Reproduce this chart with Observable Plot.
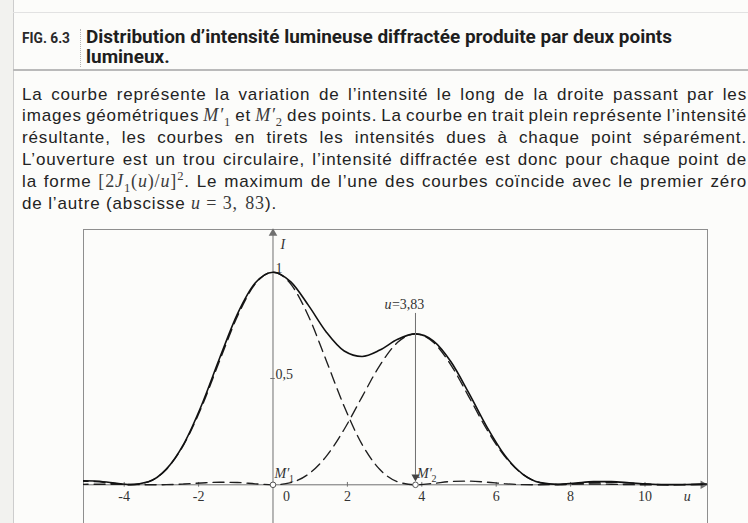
<!DOCTYPE html>
<html lang="fr">
<head>
<meta charset="utf-8">
<title>Distribution d’intensité lumineuse diffractée</title>
<script src="https://cdn.jsdelivr.net/npm/d3@7"></script>
<script src="https://cdn.jsdelivr.net/npm/@observablehq/plot@0.6"></script>
<style>
html, body { margin:0; padding:0; width:748px; height:523px; overflow:hidden; background:#fcfcfa; }
#page { position:relative; width:748px; height:523px; overflow:hidden; color:#242424; font-family:"Liberation Sans", Arial, sans-serif; }
.a { position:absolute; white-space:nowrap; }
#edge2 { left:0; top:0; width:13px; height:523px; background:#f2f2ef; }
#edge { left:13px; top:0; width:1px; height:523px; background:#cdcdcd; }
#topline { left:13px; top:12px; width:735px; height:1px; background:#e2e2e2; }
#fig { left:22px; top:0; font:700 15px Roboto, sans-serif; color:#2a2a2a; transform-origin:0 0; }
#sep { left:80px; top:29px; height:38px; width:0; border-left:1px dotted #b4b4b4; }
.tl { left:86px; top:0; font:700 18px Roboto, sans-serif; color:#1e1e1e; transform-origin:0 0; }
#rule { left:13px; top:69px; width:735px; height:2px; background:#bababa; }
.pl { left:22px; top:0; font-size:17px; color:#232323; }
.mth { font-family:"Liberation Serif", "DejaVu Serif", serif; font-size:18px; color:#3a3a3a; }
.mth i { font-style:italic; }
.mth sub, .mth sup { font-size:0.7em; line-height:0; }
#chart { left:82px; top:228px; }
</style>
</head>
<body>
<div id="page">
  <div class="a" id="edge2"></div>
  <div class="a" id="edge"></div>
  <div class="a" id="topline"></div>
  <div class="a" id="fig">FIG. 6.3</div>
  <div class="a" id="sep"></div>
  <div class="a tl" id="t1">Distribution d’intensité lumineuse diffractée produite par deux points</div>
  <div class="a tl" id="t2">lumineux.</div>
  <div class="a" id="rule"></div>
  <div class="a pl">La courbe représente la variation de l’intensité le long de la droite passant par les</div>
  <div class="a pl">images géométriques <span class="mth"><i>M′</i><sub>1</sub></span> et <span class="mth"><i>M′</i><sub>2</sub></span> des points. La courbe en trait plein représente l’intensité</div>
  <div class="a pl">résultante, les courbes en tirets les intensités dues à chaque point séparément.</div>
  <div class="a pl">L’ouverture est un trou circulaire, l’intensité diffractée est donc pour chaque point de</div>
  <div class="a pl">la forme <span class="mth">[2<i>J</i><sub>1</sub>(<i>u</i>)/<i>u</i>]<sup>2</sup></span>. Le maximum de l’une des courbes coïncide avec le premier zéro</div>
  <div class="a pl">de l’autre (abscisse <span class="mth"><i>u</i> = 3<span style="margin-right:2px">,</span> 83</span>).</div>
  <div class="a" id="chart"></div>
</div>
<script>
// Sample abscissas u along the line through M'1 and M'2
const uSamples = [-5.266, -4.788, -4.309, -3.830, -3.351, -2.873, -2.394, -1.915, -1.436, -0.958, -0.479,
  0, 0.479, 0.958, 1.436, 1.915, 2.394, 2.873, 3.351, 3.830, 4.309, 4.788, 5.266, 5.745, 6.224, 6.703,
  7.181, 7.660, 8.139, 8.618, 9.096, 9.575, 10.054, 10.533, 11.011, 11.490, 11.969];

// Intensity diffracted by the first point (centred on u = 0)
const intensityM1 = [0.0172, 0.0153, 0.0066, 0.0000, 0.0142, 0.0719, 0.1899, 0.3679, 0.5828, 0.7916, 0.9441,
  1.0000, 0.9441, 0.7916, 0.5828, 0.3679, 0.1899, 0.0719, 0.0142, 0.0000, 0.0066, 0.0153, 0.0172, 0.0123, 0.0053, 0.0008,
  0.0002, 0.0020, 0.0038, 0.0040, 0.0026, 0.0009, 0.0000, 0.0003, 0.0011, 0.0016, 0.0014];

// Intensity diffracted by the second point (centred on u = 3,83)
const intensityM2 = [0.0018, 0.0028, 0.0027, 0.0014, 0.0001, 0.0006, 0.0038, 0.0087, 0.0122, 0.0109, 0.0047,
  0.0000, 0.0101, 0.0510, 0.1348, 0.2612, 0.4138, 0.5620, 0.6703, 0.7100, 0.6703, 0.5620, 0.4138, 0.2612, 0.1348, 0.0510,
  0.0101, 0.0000, 0.0047, 0.0109, 0.0122, 0.0087, 0.0038, 0.0006, 0.0001, 0.0014, 0.0027];

// Resulting intensity (solid curve)
const intensityTotal = [0.0190, 0.0181, 0.0093, 0.0014, 0.0143, 0.0725, 0.1937, 0.3766, 0.5950, 0.8025, 0.9488,
  1.0000, 0.9542, 0.8426, 0.7176, 0.6291, 0.6037, 0.6339, 0.6845, 0.7100, 0.6769, 0.5773, 0.4310, 0.2735, 0.1401, 0.0518,
  0.0103, 0.0020, 0.0085, 0.0149, 0.0148, 0.0096, 0.0038, 0.0009, 0.0012, 0.0030, 0.0041];

const xTicks = [-4, -2, 0, 2, 4, 6, 8, 10];
const yTicks = [0.5, 1];
const yTickLabels = ["0,5", "1"];
const sourceU = [0, 3.83];
const sourceIndex = ["1", "2"];
const markerU = 3.83;
const markerText = "=3,83";

const rows = uSamples.map((u, i) => ({u, m1: intensityM1[i], m2: intensityM2[i], total: intensityTotal[i]}));

// ---------- text layout helpers ----------
const page = document.getElementById("page");
function setBaseline(el, y) {
  el.style.top = "0px";
  const probe = document.createElement("span");
  probe.style.cssText = "display:inline-block;width:0;height:0;vertical-align:baseline;";
  el.appendChild(probe);
  const b = probe.getBoundingClientRect().top - page.getBoundingClientRect().top;
  el.removeChild(probe);
  el.style.top = (y - b) + "px";
}
function scaleTo(el, w, k) {
  const s = k ?? w / el.getBoundingClientRect().width;
  el.style.transform = `scaleX(${s})`;
  return s;
}

setBaseline(document.getElementById("fig"), 42.5);
scaleTo(document.getElementById("fig"), 48);
const t1 = document.getElementById("t1"), t2 = document.getElementById("t2");
setBaseline(t1, 43.3);
setBaseline(t2, 63.3);
const k = scaleTo(t1, 586);
scaleTo(t2, 0, k);

// paragraph: shared letter spacing from the last (free) line, others justified
const lines = [...document.querySelectorAll(".pl")];
const last = lines[lines.length - 1];
const n = last.textContent.length;
const ls = Math.max(0, Math.min(1.5, (255 - last.getBoundingClientRect().width) / n));
lines.forEach((el, i) => {
  el.style.letterSpacing = ls + "px";
  setBaseline(el, 99.5 + i * 21.8);
  if (el === last) return;
  const w = el.getBoundingClientRect().width;
  const spaces = (el.textContent.match(/ /g) || []).length;
  el.style.wordSpacing = ((725 - w) / spaces) + "px";
});

// ---------- chart ----------
const X0 = -5.094, X1 = 11.680, Y0 = -0.3043, Y1 = 1.2008;
const axisGray = "#707070";
const serif = '"Liberation Serif", "DejaVu Serif", serif';
const pt = (u, v) => [{u, v}];

const chart = Plot.plot({
  width: 626, height: 321,
  marginLeft: 1, marginRight: 1, marginTop: 1, marginBottom: 0,
  x: {domain: [X0, X1], axis: null},
  y: {domain: [Y0, Y1], axis: null},
  style: {background: "transparent", overflow: "visible"},
  marks: [
    Plot.frame({stroke: "#8e8e8e", strokeWidth: 1}),
    // axes with arrowheads
    Plot.ruleY([0], {x1: X0, x2: 11.56, stroke: axisGray, strokeWidth: 1}),
    Plot.dot(pt(11.56, 0), {x: "u", y: "v", symbol: "triangle", rotate: 90, r: 3.2, fill: axisGray, stroke: "none"}),
    Plot.ruleX([0], {y1: Y0, y2: 1.18, stroke: axisGray, strokeWidth: 1}),
    Plot.dot(pt(0, 1.183), {x: "u", y: "v", symbol: "triangle", r: 3.2, fill: axisGray, stroke: "none"}),
    // ticks
    Plot.ruleX(xTicks.filter(t => t !== 0), {y1: -0.011, y2: 0.011, stroke: axisGray}),
    Plot.ruleY([0.5], {x1: -0.06, x2: 0.06, stroke: axisGray}),
    Plot.text(xTicks.filter(t => t !== 0), {x: d => d, y: () => 0, text: d => String(d), dy: 11.5,
      fontFamily: serif, fontSize: 14, fill: "#333"}),
    Plot.text([0], {x: d => d, y: () => 0, text: d => String(d), dy: 11.5, dx: 13.5,
      fontFamily: serif, fontSize: 14, fill: "#333"}),
    Plot.text(yTicks, {x: () => 0, y: d => d, text: (d, i) => yTickLabels[i], textAnchor: "start",
      dx: 2.5, dy: -4, fontFamily: serif, fontSize: 14, fill: "#333"}),
    // axis names
    Plot.text(pt(0, 1.13), {x: "u", y: "v", text: () => "I", textAnchor: "start", dx: 7.5,
      fontFamily: serif, fontStyle: "italic", fontSize: 14, fill: "#333"}),
    Plot.text(pt(11.134, 0), {x: "u", y: "v", text: () => "u", dy: 11.5,
      fontFamily: serif, fontStyle: "italic", fontSize: 14, fill: "#333"}),
    // intensity of each point separately
    Plot.line(rows, {x: "u", y: "m1", curve: "monotone-x", stroke: "#1e1e1e", strokeWidth: 1.35,
      strokeDasharray: "11,6", clip: true}),
    Plot.line(rows, {x: "u", y: "m2", curve: "monotone-x", stroke: "#1e1e1e", strokeWidth: 1.35,
      strokeDasharray: "11,6", clip: true}),
    // resulting intensity
    Plot.line(rows, {x: "u", y: "total", curve: "monotone-x", stroke: "#111", strokeWidth: 1.6, clip: true}),
    // marker of the first zero / second maximum
    Plot.ruleX([markerU], {y1: 0.045, y2: 0.806, stroke: axisGray, strokeWidth: 1}),
    Plot.dot(pt(markerU, 0.037), {x: "u", y: "v", symbol: "triangle", rotate: 180, r: 3, fill: "#444", stroke: "none"}),
    Plot.text(pt(markerU, 0.848), {x: "u", y: "v", text: () => "u", textAnchor: "end", dx: -24,
      fontFamily: serif, fontStyle: "italic", fontSize: 14, fill: "#333"}),
    Plot.text(pt(markerU, 0.848), {x: "u", y: "v", text: () => markerText, textAnchor: "start", dx: -23.5,
      fontFamily: serif, fontSize: 14, fill: "#333"}),
    // geometric images M'1 and M'2
    Plot.dot(sourceU, {x: d => d, y: () => 0, r: 2.8, fill: "white", stroke: "#555", strokeWidth: 1}),
    Plot.text(sourceU, {x: d => d, y: () => 0.055, text: () => "M′", textAnchor: "start", dx: 1.5,
      fontFamily: serif, fontStyle: "italic", fontSize: 14, fill: "#333"}),
    Plot.text(sourceU, {x: d => d, y: () => 0.026, text: (d, i) => sourceIndex[i], textAnchor: "start", dx: 16,
      fontFamily: serif, fontSize: 10, fill: "#333"})
  ]
});
document.getElementById("chart").appendChild(chart);
</script>
</body>
</html>
